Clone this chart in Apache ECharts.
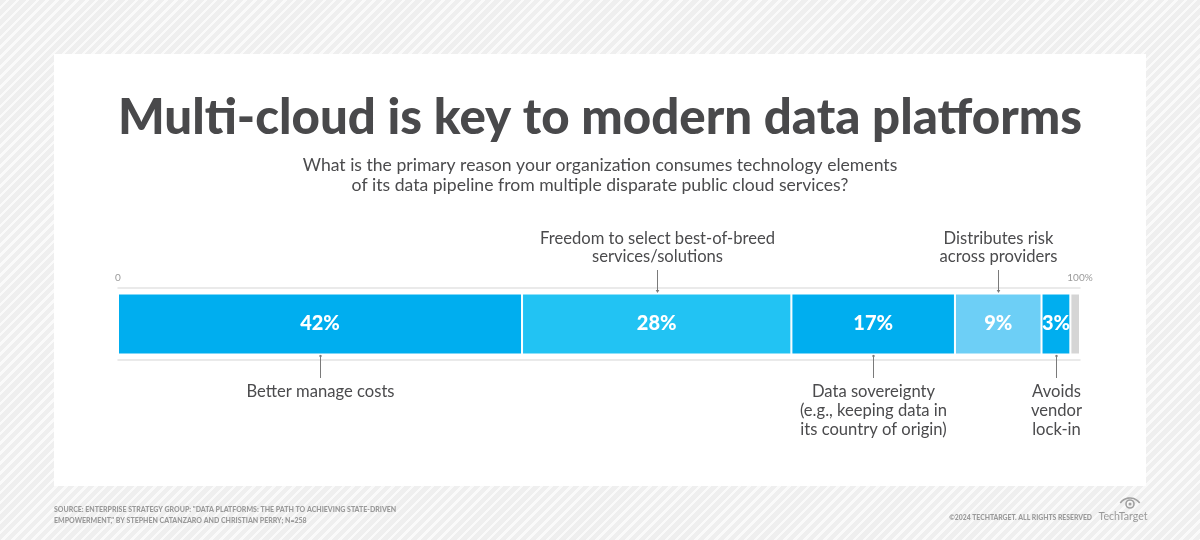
<!DOCTYPE html>
<html>
<head>
<meta charset="utf-8">
<script src="https://cdn.jsdelivr.net/npm/echarts@6/dist/echarts.min.js"></script>
<style>
  html, body { margin: 0; padding: 0; }
  body {
    width: 1200px; height: 540px; overflow: hidden;
    background: repeating-linear-gradient(135deg, #efefef 0px, #efefef 4.5px, #fafafa 4.5px, #fafafa 7px);
  }
  #chart { width: 1200px; height: 540px; }
</style>
</head>
<body>
<div id="chart"></div>
<script>
// ---- data ----
const categories = [
  'Better manage costs',
  'Freedom to select best-of-breed\nservices/solutions',
  'Data sovereignty\n(e.g., keeping data in\nits country of origin)',
  'Distributes risk\nacross providers',
  'Avoids\nvendor\nlock-in',
  'Other / no answer'
];
const values = [42, 28, 17, 9, 3, 1];
const labelSides = ['below', 'above', 'below', 'above', 'below', 'none'];
const axisTicks = [0, 100];
const axisTickLabels = ['0', '100%'];

const titleText = 'Multi-cloud is key to modern data platforms';
const subtitleText = 'What is the primary reason your organization consumes technology elements\nof its data pipeline from multiple disparate public cloud services?';
const sourceText = 'SOURCE: ENTERPRISE STRATEGY GROUP: "DATA PLATFORMS: THE PATH TO ACHIEVING STATE-DRIVEN\nEMPOWERMENT," BY STEPHEN CATANZARO AND CHRISTIAN PERRY; N=258';
const copyrightText = '\u00A92024 TECHTARGET. ALL RIGHTS RESERVED';

// ---- styles ----
const segColors = ['#00aeef', '#22c3f3', '#00aeef', '#6dcff6', '#00aeef', '#d5d5d5'];
const FONT = 'Lato, "Noto Sans", sans-serif';
const textColor = '#4b4b4d';

const chart = echarts.init(document.getElementById('chart'), null, { renderer: 'canvas' });

// cumulative extents for annotation positions
const segs = [];
let acc = 0;
values.forEach((v, i) => { segs.push([acc, acc + v, 0, i]); acc += v; });

const barSeries = values.map((v, i) => ({
  type: 'bar',
  name: categories[i],
  stack: 'total',
  xAxisIndex: 0,
  yAxisIndex: 0,
  barWidth: 61,
  data: [v],
  itemStyle: { color: segColors[i], borderColor: '#ffffff', borderWidth: 1 },
  label: {
    show: labelSides[i] !== 'none',
    position: 'inside',
    formatter: p => p.value + '%',
    color: '#ffffff',
    fontFamily: FONT,
    fontWeight: 900,
    fontSize: 20
  },
  silent: true,
  animation: false
}));

const annotSeries = {
  type: 'custom',
  xAxisIndex: 0,
  yAxisIndex: 0,
  silent: true,
  animation: false,
  encode: { x: [0, 1], y: 2 },
  data: segs,
  renderItem: function (params, api) {
    const i = api.value(3);
    const side = labelSides[i];
    if (side === 'none') return null;
    const mid = (api.value(0) + api.value(1)) / 2;
    const c = api.coord([mid, 0]);
    const x = Math.round(c[0]) + 0.5;
    const cy = c[1];
    const lineStyle = { stroke: '#7a7a7a', lineWidth: 1 };
    if (side === 'above') {
      return { type: 'group', children: [
        { type: 'line', shape: { x1: x, y1: cy - 54, x2: x, y2: cy - 32 }, style: lineStyle },
        { type: 'polygon', shape: { points: [[x - 1.8, cy - 34], [x + 1.8, cy - 34], [x, cy - 31]] }, style: { fill: '#7a7a7a' } },
        { type: 'text', x: x, y: cy - 58, style: {
          text: categories[i], textAlign: 'center', textVerticalAlign: 'bottom',
          fontFamily: FONT, fontSize: 16.6, lineHeight: 18, fill: textColor } }
      ]};
    } else {
      return { type: 'group', children: [
        { type: 'line', shape: { x1: x, y1: cy + 32, x2: x, y2: cy + 54 }, style: lineStyle },
        { type: 'circle', shape: { cx: x, cy: cy + 32, r: 1.2 }, style: { fill: '#7a7a7a' } },
        { type: 'text', x: x, y: cy + 58, style: {
          text: categories[i], textAlign: 'center', textVerticalAlign: 'top',
          fontFamily: FONT, fontSize: 16.6, lineHeight: 19, fill: textColor } }
      ]};
    }
  }
};

const option = {
  backgroundColor: 'transparent',
  animation: false,
  grid: { left: 118, right: 120, top: 288, height: 72, containLabel: false },
  xAxis: [
    {
      type: 'value', position: 'bottom', min: 0, max: 100, interval: 100,
      axisLine: { show: true, lineStyle: { color: '#e4e4e4', width: 1.5 } },
      axisTick: { show: false }, axisLabel: { show: false }, splitLine: { show: false }
    },
    {
      type: 'value', position: 'top', min: 0, max: 100, interval: 100,
      axisLine: { show: true, lineStyle: { color: '#e4e4e4', width: 1.5 } },
      axisTick: { show: false }, splitLine: { show: false },
      axisLabel: {
        show: true, margin: 5, color: '#9a9a9a', fontFamily: FONT, fontSize: 10,
        formatter: v => { const k = axisTicks.indexOf(v); return k >= 0 ? axisTickLabels[k] : ''; }
      }
    }
  ],
  yAxis: [{ type: 'category', data: ['Primary reason'], show: false }],
  graphic: [
    { type: 'rect', z: -10, shape: { x: 54, y: 54, width: 1092, height: 432 }, style: { fill: '#ffffff' }, silent: true },
    { type: 'text', x: 600, y: 118, style: { text: titleText, textAlign: 'center', textVerticalAlign: 'middle',
      fontFamily: FONT, fontWeight: 900, fontSize: 49.2, fill: '#49494b' } },
    { type: 'text', x: 600, y: 175, style: { text: subtitleText, textAlign: 'center', textVerticalAlign: 'middle',
      fontFamily: FONT, fontSize: 17.6, lineHeight: 20, fill: textColor } },
    { type: 'text', x: 54, y: 515, style: { text: sourceText, textAlign: 'left', textVerticalAlign: 'middle',
      fontFamily: FONT, fontWeight: 900, fontSize: 7, lineHeight: 11.5, fill: '#9a9a9a' } },
    { type: 'text', x: 1092, y: 518, style: { text: copyrightText, textAlign: 'right', textVerticalAlign: 'middle',
      fontFamily: FONT, fontWeight: 900, fontSize: 6.8, fill: '#9a9a9a' } },
    { type: 'text', x: 1123, y: 517, style: { text: 'TechTarget', textAlign: 'center', textVerticalAlign: 'middle',
      fontFamily: FONT, fontSize: 10.6, fill: '#9a9a9a' } },
    { type: 'arc', shape: { cx: 1130, cy: 510, r: 12, startAngle: Math.PI * 1.2, endAngle: Math.PI * 1.8 }, style: { stroke: '#a0a0a0', lineWidth: 1.6, fill: null } },
    { type: 'circle', shape: { cx: 1130, cy: 504, r: 4 }, style: { stroke: '#a0a0a0', lineWidth: 1.6, fill: null } },
    { type: 'circle', shape: { cx: 1130, cy: 504, r: 1.5 }, style: { fill: '#a0a0a0' } }
  ],
  series: barSeries.concat([annotSeries])
};

chart.setOption(option);
</script>
</body>
</html>
